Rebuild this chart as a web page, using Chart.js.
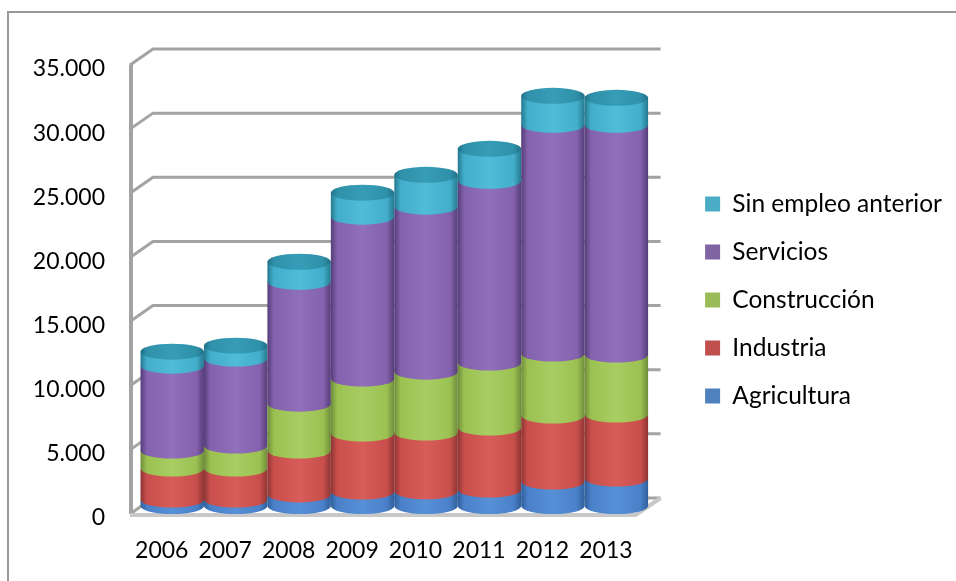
<!DOCTYPE html>
<html>
<head>
<meta charset="utf-8">
<style>
html,body{margin:0;background:#fff;overflow:hidden}
#frame{position:absolute;left:7px;top:11px;width:949px;height:570px;border-top:2px solid #999;border-left:2px solid #999;box-sizing:border-box}
#wrap{position:absolute;left:0;top:0;width:956px;height:581px}
</style>
<script src="https://cdn.jsdelivr.net/npm/chart.js@4/dist/chart.umd.js"></script>
</head>
<body>
<div id="frame"></div>
<div id="wrap"><canvas id="chart"></canvas></div>
<script>
// values
const years = ['2006','2007','2008','2009','2010','2011','2012','2013'];
const agricultura = [500,500,900,1130,1150,1280,1910,2140];
const industria = [2420,2420,3420,4520,4570,4830,5140,4990];
const construccion = [1400,1790,3660,4280,4750,5070,4830,4670];
const servicios = [6620,6780,9500,12620,12860,14170,17830,17910];
const sinEmpleo = [1090,1010,1560,1870,2490,2490,2260,2110];
const yTickLabels = ['0','5.000','10.000','15.000','20.000','25.000','30.000','35.000'];

const FONT = 'Lato, sans-serif';
const DEPTH_X = 23, DEPTH_Y = 16, BAR_RY = 8;

// edge, body, highlight for the cylinder shading
const shades = [
  ['#2f5f9c','#4a80c8','#5690d6'],
  ['#8e3432','#c94f4c','#d85c58'],
  ['#6f8c3a','#9bc152','#a8cd62'],
  ['#553d79','#8462ad','#9070ba'],
  ['#24798f','#43aecb','#50bcd8']
];

function cylGradient(ctx, left, right, s) {
  const g = ctx.createLinearGradient(left, 0, right, 0);
  g.addColorStop(0, s[0]);
  g.addColorStop(0.1, s[1]);
  g.addColorStop(0.5, s[2]);
  g.addColorStop(0.88, s[1]);
  g.addColorStop(1, s[0]);
  return g;
}

const chart3d = {
  id: 'chart3d',
  afterLayout(chart) {
    // legend sits higher than the middle of its box
    chart.legend.top -= 23;
    chart.legend.bottom -= 23;
  },
  beforeDatasetsDraw(chart) {
    const ctx = chart.ctx, a = chart.chartArea, y = chart.scales.y;
    ctx.save();
    // walls and gridlines
    ctx.strokeStyle = '#a3a3a3';
    ctx.lineWidth = 3;
    ctx.lineJoin = 'round';
    y.ticks.forEach(t => {
      const py = y.getPixelForValue(t.value);
      ctx.beginPath();
      ctx.moveTo(a.left, py);
      ctx.lineTo(a.left + DEPTH_X, py - DEPTH_Y);
      ctx.lineTo(a.right + DEPTH_X, py - DEPTH_Y);
      ctx.stroke();
    });
    ctx.lineWidth = 4;
    ctx.beginPath();
    ctx.moveTo(a.left + 1, a.top);
    ctx.lineTo(a.left + 1, a.bottom);
    ctx.stroke();
    ctx.strokeStyle = '#c8c8c8';
    ctx.beginPath();
    ctx.moveTo(a.left, a.bottom + 1);
    ctx.lineTo(a.right - 2, a.bottom + 1);
    ctx.lineTo(a.right + DEPTH_X, a.bottom - DEPTH_Y);
    ctx.stroke();

    // cylinders, left to right and bottom segment first
    ctx.filter = 'blur(0.7px)';
    const ds = chart.data.datasets;
    years.forEach((yr, i) => {
      ds.forEach((d, k) => {
        const bar = chart.getDatasetMeta(k).data[i];
        const cx = bar.x + DEPTH_X / 2 - 1, rx = bar.width / 2;
        const top = bar.y - DEPTH_Y / 2, base = bar.base - DEPTH_Y / 2;
        ctx.fillStyle = cylGradient(ctx, cx - rx, cx + rx, shades[k]);
        ctx.beginPath();
        ctx.moveTo(cx - rx, top);
        ctx.lineTo(cx - rx, base);
        ctx.ellipse(cx, base, rx, BAR_RY, 0, Math.PI, 0, true);
        ctx.lineTo(cx + rx, top);
        ctx.closePath();
        ctx.fill();
        if (k === ds.length - 1) {
          ctx.fillStyle = cylGradient(ctx, cx - rx, cx + rx, ['#1f6f86','#2f90a9','#379db7']);
          ctx.beginPath();
          ctx.ellipse(cx, top, rx, BAR_RY, 0, 0, Math.PI * 2);
          ctx.fill();
        }
      });
    });
    ctx.restore();
    return false;
  }
};

new Chart(document.getElementById('chart'), {
  type: 'bar',
  data: {
    labels: years,
    datasets: [
      { label:'Agricultura', data: agricultura, backgroundColor:'#4f81bd' },
      { label:'Industria', data: industria, backgroundColor:'#c0504d' },
      { label:'Construcción', data: construccion, backgroundColor:'#9bbb59' },
      { label:'Servicios', data: servicios, backgroundColor:'#8064a2' },
      { label:'Sin empleo anterior', data: sinEmpleo, backgroundColor:'#4bacc6' }
    ]
  },
  options: {
    responsive: true,
    maintainAspectRatio: false,
    animation: false,
    datasets: { bar: { categoryPercentage: 1, barPercentage: 1 } },
    layout: { padding: { top: 65, right: 4, left: 0, bottom: 0 } },
    plugins: {
      tooltip: { enabled: false },
      legend: {
        position: 'right',
        reverse: true,
        maxWidth: 274,
        labels: { boxWidth: 15, boxHeight: 15, padding: 23.5, color: '#000', font: { family: FONT, size: 24.5 } }
      }
    },
    scales: {
      x: {
        stacked: true,
        grid: { display: false },
        border: { display: false },
        afterFit(s) { s.height = 67; },
        ticks: { color: '#000', padding: 15, maxRotation: 0, font: { family: FONT, size: 23 } }
      },
      y: {
        stacked: true,
        min: 0, max: 35000,
        grid: { display: false },
        border: { display: false },
        afterFit(s) { s.width = 130; },
        ticks: {
          stepSize: 5000, padding: 17, labelOffset: 4, color: '#000',
          font: { family: FONT, size: 23 },
          callback: (v, i) => yTickLabels[i]
        }
      },
      // empty axis that keeps the gap between the plot and the legend
      gap: {
        position: 'right',
        display: true,
        grid: { display: false },
        border: { display: false },
        ticks: { display: false },
        afterFit(s) { s.width = 44; }
      }
    }
  },
  plugins: [chart3d]
});
</script>
</body>
</html>
